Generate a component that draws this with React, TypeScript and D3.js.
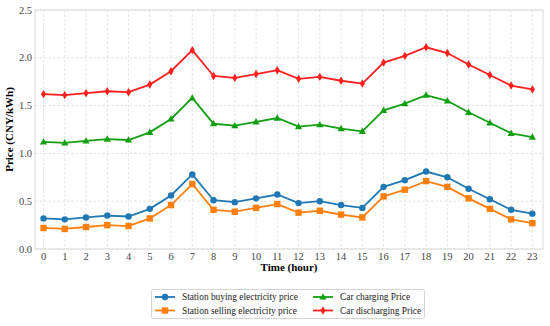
import * as d3 from "d3";

// hours on the x axis
const hours = d3.range(0, 24);

// price series, CNY/kWh
const buyingPrice = [0.32, 0.31, 0.33, 0.35, 0.34, 0.42, 0.56, 0.78, 0.51, 0.49, 0.53, 0.57, 0.48, 0.5, 0.46, 0.43, 0.65, 0.72, 0.81, 0.75, 0.63, 0.52, 0.41, 0.37];
const sellingPrice = [0.22, 0.21, 0.23, 0.25, 0.24, 0.32, 0.46, 0.68, 0.41, 0.39, 0.43, 0.47, 0.38, 0.4, 0.36, 0.33, 0.55, 0.62, 0.71, 0.65, 0.53, 0.42, 0.31, 0.27];
const chargingPrice = [1.12, 1.11, 1.13, 1.15, 1.14, 1.22, 1.36, 1.58, 1.31, 1.29, 1.33, 1.37, 1.28, 1.3, 1.26, 1.23, 1.45, 1.52, 1.61, 1.55, 1.43, 1.32, 1.21, 1.17];
const dischargingPrice = [1.62, 1.61, 1.63, 1.65, 1.64, 1.72, 1.86, 2.08, 1.81, 1.79, 1.83, 1.87, 1.78, 1.8, 1.76, 1.73, 1.95, 2.02, 2.11, 2.05, 1.93, 1.82, 1.71, 1.67];

const yTicks = [0, 0.5, 1.0, 1.5, 2.0, 2.5];

const series = [
  { name: "Station buying electricity price", values: buyingPrice, color: "#1f77b4", marker: "circle" },
  { name: "Station selling electricity price", values: sellingPrice, color: "#ff7f0e", marker: "square" },
  { name: "Car charging Price", values: chargingPrice, color: "#12a012", marker: "triangle" },
  { name: "Car discharging Price", values: dischargingPrice, color: "#ff1f1f", marker: "diamond" },
];

const width = 550;
const height = 326;
const margin = { left: 35, right: 7, top: 10, bottom: 77 };
const serif = { fontFamily: '"Liberation Serif"' };

function Marker({ kind, x, y, color }: { kind: string; x: number; y: number; color: string }) {
  if (kind === "circle") return <circle cx={x} cy={y} r={3.2} fill={color} />;
  if (kind === "square") return <rect x={x - 3.2} y={y - 3.2} width={6.4} height={6.4} fill={color} />;
  if (kind === "triangle")
    return <path d={`M${x},${y - 3.8}L${x + 3.6},${y + 2.6}L${x - 3.6},${y + 2.6}Z`} fill={color} />;
  // thin diamond
  return <path d={`M${x},${y - 4.2}L${x + 2.6},${y}L${x},${y + 4.2}L${x - 2.6},${y}Z`} fill={color} />;
}

export default function App() {
  const x = d3.scaleLinear([-0.4, 23.5], [margin.left, width - margin.right]);
  const y = d3.scaleLinear([0, 2.5], [height - margin.bottom, margin.top]);
  const line = d3.line<number>((_, i) => x(hours[i]), (d) => y(d));

  const plotBottom = height - margin.bottom;
  const plotRight = width - margin.right;

  return (
    <svg width={width} height={height} style={{ position: "absolute", left: 0, top: 0, background: "#fff" }}>
      {/* grid */}
      <g stroke="#dcdcdc" strokeWidth={0.8} strokeDasharray="2.5,2">
        {hours.map((h) => (
          <line key={h} x1={x(h)} x2={x(h)} y1={margin.top} y2={plotBottom} />
        ))}
        {yTicks.map((t) => (
          <line key={t} x1={margin.left} x2={plotRight} y1={y(t)} y2={y(t)} />
        ))}
      </g>
      <rect
        x={margin.left}
        y={margin.top}
        width={plotRight - margin.left}
        height={plotBottom - margin.top}
        fill="none"
        stroke="#d8d8d8"
        strokeWidth={1}
      />

      {/* tick labels */}
      {hours.map((h) => (
        <text key={h} x={x(h)} y={plotBottom + 10.5} textAnchor="middle" fontSize={10.5} fill="#444" style={serif}>
          {h}
        </text>
      ))}
      {yTicks.map((t) => (
        <text key={t} x={margin.left - 3} y={y(t) + 3.5} textAnchor="end" fontSize={10.5} fill="#444" style={serif}>
          {t.toFixed(1)}
        </text>
      ))}

      {/* axis titles */}
      <text
        x={(margin.left + plotRight) / 2}
        y={plotBottom + 22}
        textAnchor="middle"
        style={serif}
        fontSize={11}
        fontWeight="bold"
      >
        Time (hour)
      </text>
      <text
        transform={`translate(13 ${(margin.top + plotBottom) / 2}) rotate(-90)`}
        textAnchor="middle"
        style={serif}
        fontSize={11}
        fontWeight="bold"
      >
        Price (CNY/kWh)
      </text>

      {/* lines */}
      {series.map((s) => (
        <g key={s.name}>
          <path d={line(s.values) ?? ""} fill="none" stroke={s.color} strokeWidth={1.8} />
          {s.values.map((v, i) => (
            <Marker key={i} kind={s.marker} x={x(hours[i])} y={y(v)} color={s.color} />
          ))}
        </g>
      ))}

      {/* legend */}
      <rect x={151.5} y={289.5} width={273} height={29} rx={2} fill="#fff" stroke="#d4d4d4" />
      {series.map((s, i) => {
        const col = Math.floor(i / 2);
        const row = i % 2;
        const lx = col === 0 ? 155 : 313;
        const ly = 297 + row * 13.5;
        return (
          <g key={s.name}>
            <line x1={lx} x2={lx + 20} y1={ly} y2={ly} stroke={s.color} strokeWidth={1.8} />
            <Marker kind={s.marker} x={lx + 10} y={ly} color={s.color} />
            <text x={lx + 27} y={ly + 3.3} style={serif} fontSize={9.4} fill="#222">
              {s.name}
            </text>
          </g>
        );
      })}
    </svg>
  );
}
